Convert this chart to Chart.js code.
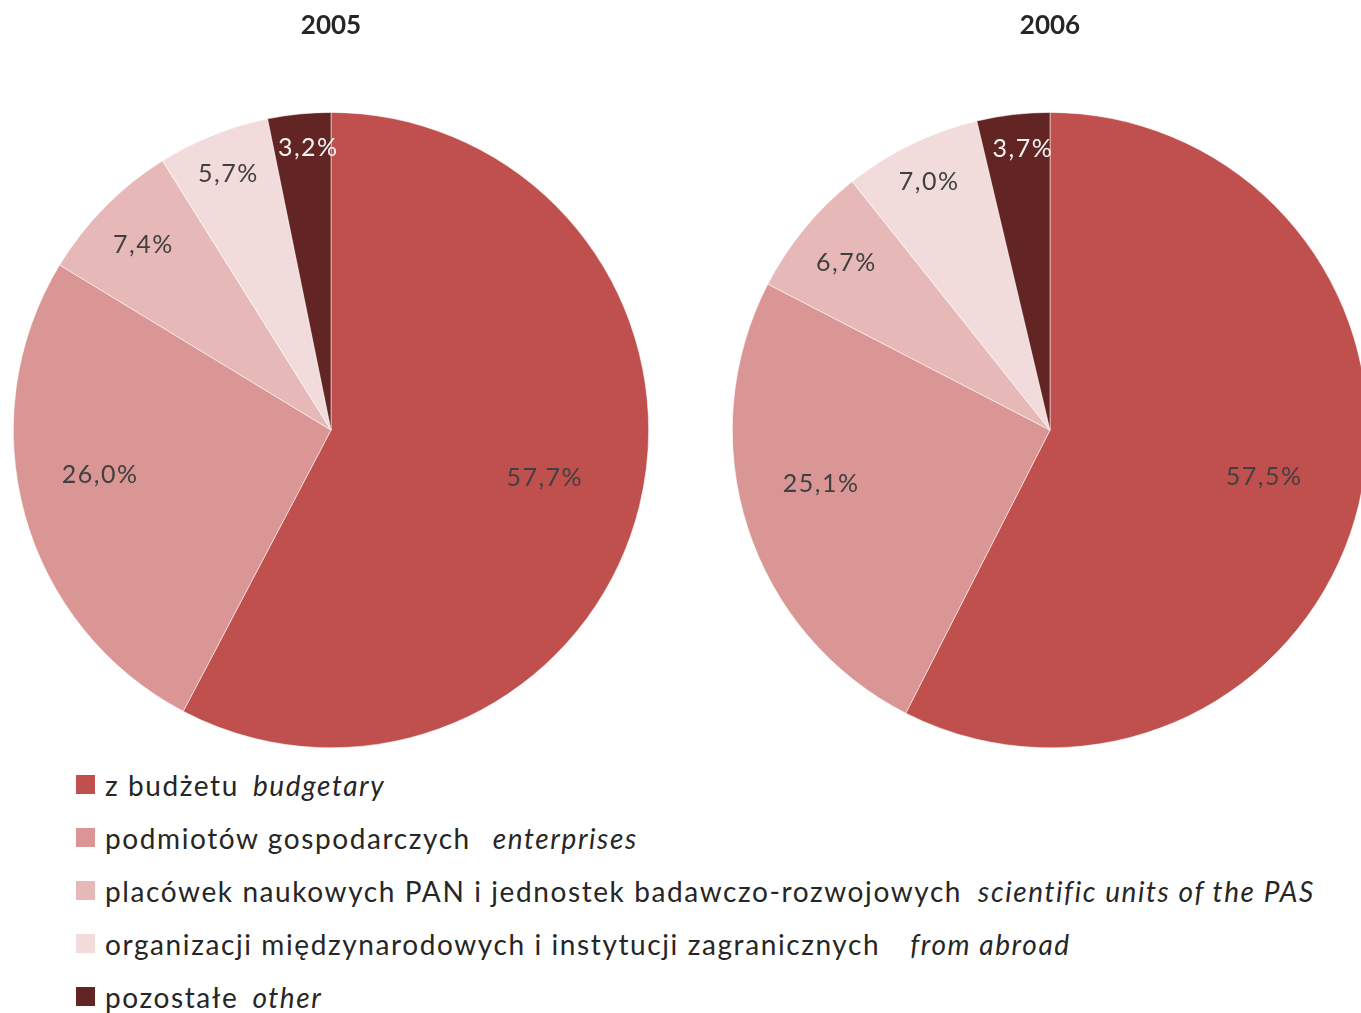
<!DOCTYPE html>
<html>
<head>
<meta charset="utf-8">
<script src="https://cdn.jsdelivr.net/npm/chart.js@4"></script>
<style>
  html, body { margin: 0; padding: 0; background: #fff; overflow: hidden; width: 1361px; height: 1013px; }
  .box { position: absolute; top: 0; width: 636px; height: 748px; }
  #box2005 { left: 13px; }
  #box2006 { left: 732px; }
  #legend { position: absolute; left: 76px; top: 758px; font-family: Lato, "Open Sans", sans-serif; font-size: 28px; letter-spacing: 1.6px; color: #262626; }
  .row { height: 53px; display: flex; align-items: center; white-space: nowrap; }
  .sw { width: 19px; height: 19px; margin-right: 10px; }
  .en { font-style: italic; }
</style>
</head>
<body>
<div class="box" id="box2005"><canvas id="pie2005"></canvas></div>
<div class="box" id="box2006"><canvas id="pie2006"></canvas></div>
<div id="legend"></div>
<script>
const categoriesPl = ['z budżetu', 'podmiotów gospodarczych', 'placówek naukowych PAN i jednostek badawczo-rozwojowych', 'organizacji międzynarodowych i instytucji zagranicznych', 'pozostałe'];
const categoriesEn = ['budgetary', 'enterprises', 'scientific units of the PAS', 'from abroad', 'other'];
const values2005 = [57.7, 26.0, 7.4, 5.7, 3.2];
const values2006 = [57.5, 25.1, 6.7, 7.0, 3.7];

const colors = ['#C0504D', '#D99694', '#E6B9B8', '#F2DCDB', '#632523'];
const labelColors = ['#404040', '#404040', '#404040', '#404040', '#F2F2F2'];
// how far out along the slice each label sits (fraction of radius)
const labelRadius = [0.69, 0.74, 0.83, 0.87, 0.89];
// small nudge of the label angle (radians), Excel "best fit" style
const labelTurn = [-0.02, 0.08, 0, 0, 0.02];
// gap between polish and english text in the legend rows
const legendGaps = [14, 22, 16, 30, 14];

const sliceLabels = {
  id: 'sliceLabels',
  afterDatasetsDraw(chart) {
    const ctx = chart.ctx;
    const meta = chart.getDatasetMeta(0);
    ctx.save();
    ctx.font = '25px Lato, "Open Sans", sans-serif';
    ctx.letterSpacing = '1.5px';
    ctx.textAlign = 'center';
    ctx.textBaseline = 'middle';
    meta.data.forEach((arc, i) => {
      const p = arc.getProps(['x', 'y', 'startAngle', 'endAngle', 'outerRadius'], true);
      const mid = (p.startAngle + p.endAngle) / 2 + labelTurn[i];
      const r = p.outerRadius * labelRadius[i];
      const v = chart.data.datasets[0].data[i];
      ctx.fillStyle = labelColors[i];
      ctx.fillText(v.toFixed(1).replace('.', ',') + '%', p.x + Math.cos(mid) * r, p.y + Math.sin(mid) * r);
    });
    ctx.restore();
  }
};

const makePie = (id, year, values) => new Chart(document.getElementById(id), {
  type: 'pie',
  data: {
    labels: categoriesPl,
    datasets: [{
      data: values,
      backgroundColor: colors,
      borderColor: '#ffffff',
      borderWidth: 0.5
    }]
  },
  options: {
    responsive: true,
    maintainAspectRatio: false,
    animation: false,
    layout: { padding: 0 },
    plugins: {
      legend: { display: false },
      tooltip: { enabled: false },
      title: {
        display: true,
        text: year,
        color: '#262626',
        font: { family: 'Lato, "Open Sans", sans-serif', size: 26, weight: 'bold' },
        padding: { top: 10, bottom: 71 }
      }
    }
  },
  plugins: [sliceLabels]
});

makePie('pie2005', '2005', values2005);
makePie('pie2006', '2006', values2006);

const legend = document.getElementById('legend');
categoriesPl.forEach((pl, i) => {
  const row = document.createElement('div');
  row.className = 'row';
  row.innerHTML = `<span class="sw" style="background:${colors[i]}"></span><span>${pl}</span><span class="en" style="margin-left:${legendGaps[i]}px">${categoriesEn[i]}</span>`;
  legend.appendChild(row);
});
</script>
</body>
</html>
